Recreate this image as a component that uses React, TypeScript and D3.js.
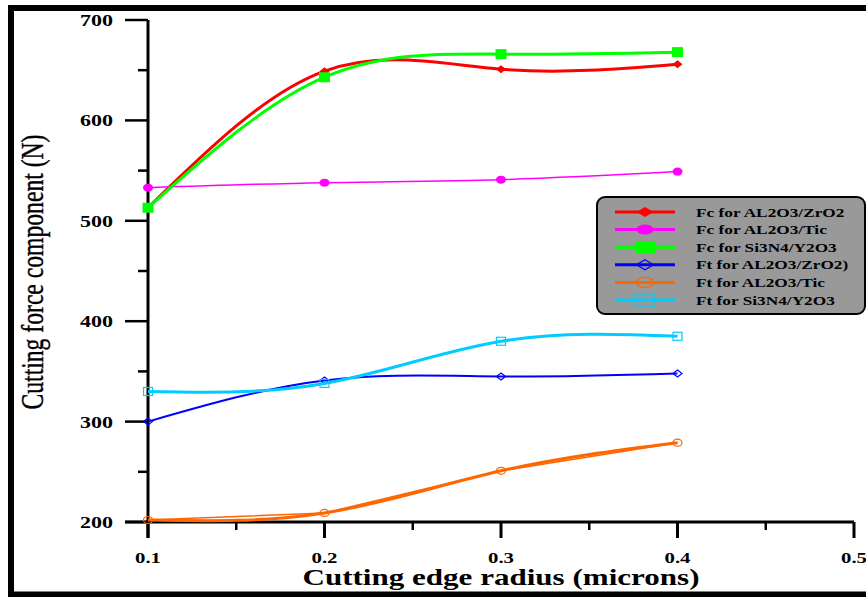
import React from 'react';
import * as d3 from 'd3';

// values
const radius = [0.1, 0.2, 0.3, 0.4];
const fcZrO2 = [513, 649, 651, 656];
const fcTic = [533, 538, 541, 549];
const fcSi3N4 = [513, 643, 666, 668];
const ftZrO2 = [300, 341, 345, 348];
const ftTic = [202, 209, 251, 279];
const ftSi3N4 = [330, 338, 380, 385];

const xTicks = [0.1, 0.2, 0.3, 0.4, 0.5];
const xMinor = [0.15, 0.25, 0.35, 0.45];
const yTicks = [200, 300, 400, 500, 600, 700];
const yMinor = [250, 350, 450, 550, 650];

const seriesNames = [
  'Fc for AL2O3/ZrO2',
  'Fc for AL2O3/Tic',
  'Fc for Si3N4/Y2O3',
  'Ft for AL2O3/ZrO2)',
  'Ft for AL2O3/Tic',
  'Ft for Si3N4/Y2O3',
];

type Marker = 'diamond' | 'circle' | 'square';

const series = [
  { name: seriesNames[0], values: fcZrO2, color: '#ff0000', width: 3, marker: 'diamond' as Marker, filled: true },
  { name: seriesNames[1], values: fcTic, color: '#ff00ff', width: 1.5, marker: 'circle' as Marker, filled: true },
  { name: seriesNames[2], values: fcSi3N4, color: '#00ff00', width: 3, marker: 'square' as Marker, filled: true },
  { name: seriesNames[3], values: ftZrO2, color: '#0000ff', width: 2, marker: 'diamond' as Marker, filled: false },
  { name: seriesNames[4], values: ftTic, color: '#ff6600', width: 3, marker: 'circle' as Marker, filled: false },
  { name: seriesNames[5], values: ftSi3N4, color: '#00ccff', width: 3, marker: 'square' as Marker, filled: false },
];

const W = 866;
const H = 597;
const serif = '"Liberation Serif", "Times New Roman", serif';

const x = d3.scaleLinear().domain([0.1, 0.5]).range([148, 854]);
const y = d3.scaleLinear().domain([200, 700]).range([522, 20]);

function markerShape(m: Marker, cx: number, cy: number, w: number, h: number, color: string, filled: boolean, key: string) {
  const fill = filled ? color : 'none';
  const sw = filled ? 0 : 1.2;
  if (m === 'circle') return <ellipse key={key} cx={cx} cy={cy} rx={w / 2} ry={h / 2} fill={fill} stroke={color} strokeWidth={sw} />;
  if (m === 'square') return <rect key={key} x={cx - w / 2} y={cy - h / 2} width={w} height={h} fill={fill} stroke={color} strokeWidth={sw} />;
  const pts = [[cx, cy - h / 2], [cx + w / 2, cy], [cx, cy + h / 2], [cx - w / 2, cy]].map((p) => p.join(',')).join(' ');
  return <polygon key={key} points={pts} fill={fill} stroke={color} strokeWidth={sw} />;
}

export default function App() {
  const smooth = d3.line<number>().x((_, i) => x(radius[i])).y((d) => y(d)).curve(d3.curveNatural);
  const straight = d3.line<number>().x((_, i) => x(radius[i])).y((d) => y(d));

  const legendX = 597;
  const legendY = 197;
  const rowY = (i: number) => 212 + i * 17.6;

  return (
    <svg width={W} height={H} style={{ position: 'absolute', left: 0, top: 0, background: '#fff' }}>
      {/* frame */}
      <rect x={11} y={8} width={900} height={586.5} fill="none" stroke="#000" strokeWidth={6} />

      {/* axes */}
      <line x1={148} x2={148} y1={y(700)} y2={y(200) + 16} stroke="#000" strokeWidth={3} />
      <line x1={125} x2={x(0.5)} y1={y(200)} y2={y(200)} stroke="#000" strokeWidth={3} />
      {yTicks.map((t) => (
        <g key={'y' + t}>
          <line x1={125} x2={148} y1={y(t)} y2={y(t)} stroke="#000" strokeWidth={2.5} />
          <text x={113} y={y(t) + 6} textAnchor="end" fontFamily={serif} fontWeight="bold" fontSize={17} textLength={33} lengthAdjust="spacingAndGlyphs">{t}</text>
        </g>
      ))}
      {yMinor.map((t) => (
        <line key={'ym' + t} x1={138} x2={148} y1={y(t)} y2={y(t)} stroke="#000" strokeWidth={2.5} />
      ))}
      {xTicks.map((t) => (
        <g key={'x' + t}>
          <line x1={x(t)} x2={x(t)} y1={y(200)} y2={y(200) + 16} stroke="#000" strokeWidth={3} />
          <text x={x(t)} y={563} textAnchor="middle" fontFamily={serif} fontWeight="bold" fontSize={15} textLength={26} lengthAdjust="spacingAndGlyphs">{t.toFixed(1)}</text>
        </g>
      ))}
      {xMinor.map((t) => (
        <line key={'xm' + t} x1={x(t)} x2={x(t)} y1={y(200)} y2={y(200) + 8} stroke="#000" strokeWidth={2.5} />
      ))}

      {/* axis titles */}
      <text transform="translate(43,272) rotate(-90)" textAnchor="middle" fontFamily={serif} fontSize={31} stroke="#000" strokeWidth={0.4} textLength={275} lengthAdjust="spacingAndGlyphs">
        Cutting force component (N)
      </text>
      <text x={501} y={585} textAnchor="middle" fontFamily={serif} fontWeight="bold" fontSize={23} textLength={397} lengthAdjust="spacingAndGlyphs">
        Cutting edge radius (microns)
      </text>

      {/* extra straight orange trace under the spline */}
      <path d={straight(ftTic) ?? ''} fill="none" stroke="#ff6600" strokeWidth={1.5} />

      {/* series */}
      {series.map((s) => (
        <g key={s.name}>
          <path d={smooth(s.values) ?? ''} fill="none" stroke={s.color} strokeWidth={s.width} />
          {s.values.map((v, i) => {
            const filled = s.filled;
            const w = s.marker === 'square' ? (filled ? 11 : 9) : s.marker === 'circle' ? (filled ? 10 : 9) : (filled ? 10 : 9);
            const h = s.marker === 'square' ? (filled ? 10 : 8) : s.marker === 'circle' ? (filled ? 8 : 7) : (filled ? 8 : 7);
            return markerShape(s.marker, x(radius[i]), y(v), w, h, s.color, filled, s.name + i);
          })}
        </g>
      ))}

      {/* legend */}
      <rect x={legendX} y={legendY} width={268} height={117} rx={8} fill="#999999" stroke="#000" strokeWidth={2} />
      {series.map((s, i) => (
        <g key={'lg' + i}>
          <line x1={615} x2={675} y1={rowY(i)} y2={rowY(i)} stroke={s.color} strokeWidth={3} />
          {markerShape(s.marker, 645, rowY(i), s.marker === 'circle' ? 17 : s.marker === 'square' ? 20 : 17, s.marker === 'square' ? 12 : 10, s.color, s.filled, 'lm' + i)}
          <text transform={`translate(696,${rowY(i) + 4.5}) scale(1.33,1)`} fontFamily={serif} fontWeight="bold" fontSize={13}>{s.name}</text>
        </g>
      ))}
    </svg>
  );
}
